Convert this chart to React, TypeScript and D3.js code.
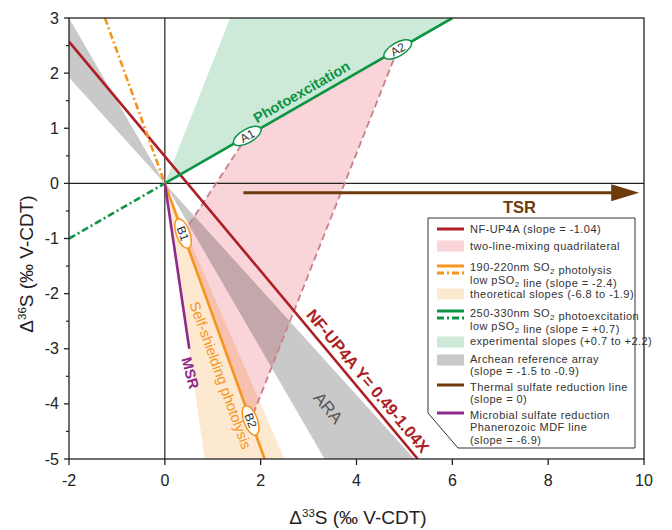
import React from "react";
import * as d3 from "d3";

const W = 672;
const H = 530;

// axis ticks
const xTicks = [-2, 0, 2, 4, 6, 8, 10];
const yTicks = [-5, -4, -3, -2, -1, 0, 1, 2, 3];
const yMinorTicks = [-4.5, -3.5, -2.5, -1.5, -0.5, 0.5, 1.5, 2.5];

// lines and arrays
const nfIntercept = 0.49;
const nfSlope = -1.04;
const araSlopes = [-1.5, -0.96];
const photolysisSlope = -2.4;
const theoreticalSlopes = [-6.0, -2.0];
const photoexcitationSlope = 0.5;
const experimentalSlopes = [0.5, 2.2];
const msrEnd = [0.51, -3.0];
const tsrY = -0.17;
const tsrX = [1.64, 9.9];

// two-line-mixing quadrilateral corners
const mixingIds = ["A1", "A2", "B2", "B1"];
const mixingX = [1.72, 4.86, 1.79, 0.38];
const mixingY = [0.86, 2.43, -4.3, -0.91];

const C = {
  red: "#ad1f24",
  green: "#0b9444",
  greenBand: "#cde9d8",
  orange: "#f7941d",
  orangeBand: "#fde9cf",
  pink: "#f9d4d8",
  pinkDash: "#c9808a",
  grey: "#c9c9c9",
  brown: "#6e3b0c",
  purple: "#8e2a8c",
  axis: "#222",
};

const FONT = "Arial, 'Liberation Sans', Helvetica, sans-serif";
const DASHDOT = "7,3,2,3";

const x = d3.scaleLinear().domain([-2, 10]).range([69, 644]);
const y = d3.scaleLinear().domain([-5, 3]).range([459, 18]);

const line = d3
  .line<[number, number]>()
  .x((d) => x(d[0]))
  .y((d) => y(d[1]));

// wedge from origin between two slopes, restricted to one side
const wedge = (s1: number, s2: number, far: number) =>
  line([
    [0, 0],
    [far, s1 * far],
    [far, s2 * far],
  ]) + "Z";

const angleOf = (slope: number) =>
  (Math.atan2(y(slope) - y(0), x(1) - x(0)) * 180) / Math.PI;

const Sub = ({ t }: { t: string }) => (
  <>
    <tspan fontSize="8" dy="2.5">
      {t}
    </tspan>
    <tspan dy="-2.5"></tspan>
  </>
);

const Marker = ({ i, color, slope }: { i: number; color: string; slope: number }) => {
  const px = x(mixingX[i]);
  const py = y(mixingY[i]);
  const a = angleOf(slope);
  return (
    <g transform={`translate(${px},${py}) rotate(${a})`}>
      <ellipse rx={15.5} ry={6.8} fill="#fff" stroke={color} strokeWidth={1.5} />
      <text textAnchor="middle" y={4.2} fontSize={12} fill="#333" fontFamily={FONT}>
        {mixingIds[i]}
      </text>
    </g>
  );
};

const legendX = 428;
const legendTop = 218;
const legendRight = 635;
const legendBottom = 448;
const swX0 = 437;
const swX1 = 464;
const txtX = 470;

const LineSwatch = ({ yy, color, dash }: { yy: number; color: string; dash?: string }) => (
  <line
    x1={swX0}
    x2={swX1}
    y1={yy}
    y2={yy}
    stroke={color}
    strokeWidth={3}
    strokeDasharray={dash}
  />
);
const RectSwatch = ({ yy, color }: { yy: number; color: string }) => (
  <rect x={swX0} y={yy - 5.5} width={swX1 - swX0} height={11} fill={color} />
);

const Legend = () => {
  const t = (yy: number, content: React.ReactNode) => (
    <text
      x={txtX}
      y={yy + 4}
      fontSize={11}
      letterSpacing={0.45}
      fill="#333"
      fontFamily={FONT}
    >
      {content}
    </text>
  );
  return (
    <g>
      <path
        d={`M${legendX},${legendTop}H${legendRight}V${legendBottom}H${legendX + 30}L${legendX},${legendBottom - 35}Z`}
        fill="#fff"
        stroke="#333"
        strokeWidth={1}
      />
      <LineSwatch yy={229} color={C.red} />
      {t(229, "NF-UP4A (slope = -1.04)")}
      <RectSwatch yy={246} color={C.pink} />
      {t(246, "two-line-mixing quadrilateral")}
      <LineSwatch yy={266} color={C.orange} />
      <LineSwatch yy={273} color={C.orange} dash={DASHDOT} />
      {t(267, <>190-220nm SO<Sub t="2" /> photolysis</>)}
      {t(280, <>low pSO<Sub t="2" /> line (slope = -2.4)</>)}
      <RectSwatch yy={294} color={C.orangeBand} />
      {t(294, "theoretical slopes (-6.8 to -1.9)")}
      <LineSwatch yy={311} color={C.green} />
      <LineSwatch yy={318} color={C.green} dash={DASHDOT} />
      {t(313, <>250-330nm SO<Sub t="2" /> photoexcitation</>)}
      {t(326, <>low pSO<Sub t="2" /> line (slope = +0.7)</>)}
      <RectSwatch yy={342} color={C.greenBand} />
      {t(341, "experimental slopes (+0.7 to +2.2)")}
      <RectSwatch yy={360} color={C.grey} />
      {t(359, "Archean reference array")}
      {t(371, "(slope = -1.5 to -0.9)")}
      <LineSwatch yy={385} color={C.brown} />
      {t(387, "Thermal sulfate reduction line")}
      {t(399, "(slope = 0)")}
      <LineSwatch yy={413} color={C.purple} />
      {t(415, "Microbial sulfate reduction")}
      {t(427, "Phanerozoic MDF line")}
      {t(440, "(slope = -6.9)")}
    </g>
  );
};

export default function App() {
  const [x0, x1] = x.domain();
  const [y0, y1] = y.domain();

  const quad = line(mixingX.map((v, i) => [v, mixingY[i]] as [number, number])) + "Z";

  const nfEndX = (y0 - nfIntercept) / nfSlope;
  const photoTopX = y1 / photolysisSlope;
  const photoBotX = y0 / photolysisSlope;
  const greenTopX = y1 / photoexcitationSlope;

  const gAngle = angleOf(photoexcitationSlope);
  const oAngle = angleOf(photolysisSlope);
  const rAngle = angleOf(nfSlope);

  // label anchors along the lines
  const peX = 2.97;
  const nfLX = 4.05;
  const ssY = -3.4;

  const arrowTip = x(tsrX[1]);
  const arrowBase = arrowTip - 28;

  return (
    <svg
      width={W}
      height={H}
      style={{ position: "absolute", left: 0, top: 0, background: "#fff" }}
      fontFamily={FONT}
    >
      <defs>
        <clipPath id="plot">
          <rect x={x(x0)} y={y(y1)} width={x(x1) - x(x0)} height={y(y0) - y(y1)} />
        </clipPath>
      </defs>

      <g clipPath="url(#plot)">
        {/* bands */}
        <path d={wedge(araSlopes[0], araSlopes[1], -20)} fill={C.grey} />
        <path d={wedge(araSlopes[0], araSlopes[1], 20)} fill={C.grey} />
        <path d={wedge(experimentalSlopes[0], experimentalSlopes[1], 20)} fill={C.greenBand} />
        <path
          d={
            line([
              [0, 0],
              [-20 / theoreticalSlopes[0], -20],
              [-20 / theoreticalSlopes[1], -20],
            ]) + "Z"
          }
          fill={C.orangeBand}
        />
        <path d={quad} fill={C.pink} style={{ mixBlendMode: "multiply" }} />

        {/* zero lines */}
        <line x1={x(x0)} x2={x(x1)} y1={y(0)} y2={y(0)} stroke={C.axis} strokeWidth={1.2} />
        <line x1={x(0)} x2={x(0)} y1={y(y0)} y2={y(y1)} stroke={C.axis} strokeWidth={1.2} />

        {/* mixing dashed edges */}
        <path
          d={line([
            [mixingX[0], mixingY[0]],
            [mixingX[3], mixingY[3]],
          ]) || ""}
          stroke={C.pinkDash}
          strokeWidth={1.8}
          strokeDasharray="7,4"
          fill="none"
        />
        <path
          d={line([
            [mixingX[1], mixingY[1]],
            [mixingX[2], mixingY[2]],
          ]) || ""}
          stroke={C.pinkDash}
          strokeWidth={1.8}
          strokeDasharray="7,4"
          fill="none"
        />

        {/* NF-UP4A */}
        <path
          d={line([
            [x0, nfIntercept + nfSlope * x0],
            [nfEndX, y0],
          ]) || ""}
          stroke={C.red}
          strokeWidth={2.6}
          fill="none"
        />

        {/* photoexcitation */}
        <path
          d={line([
            [x0, photoexcitationSlope * x0],
            [0, 0],
          ]) || ""}
          stroke={C.green}
          strokeWidth={2.6}
          strokeDasharray={DASHDOT}
          fill="none"
        />
        <path
          d={line([
            [0, 0],
            [greenTopX, y1],
          ]) || ""}
          stroke={C.green}
          strokeWidth={2.6}
          fill="none"
        />

        {/* photolysis */}
        <path
          d={line([
            [photoTopX, y1],
            [0, 0],
          ]) || ""}
          stroke={C.orange}
          strokeWidth={2.6}
          strokeDasharray={DASHDOT}
          fill="none"
        />
        <path
          d={line([
            [0, 0],
            [photoBotX, y0],
          ]) || ""}
          stroke={C.orange}
          strokeWidth={2.6}
          fill="none"
        />

        {/* MSR */}
        <path
          d={line([
            [0, 0],
            [msrEnd[0], msrEnd[1]],
          ]) || ""}
          stroke={C.purple}
          strokeWidth={2.6}
          fill="none"
        />

        {/* TSR arrow */}
        <line
          x1={x(tsrX[0])}
          x2={arrowBase + 2}
          y1={y(tsrY)}
          y2={y(tsrY)}
          stroke={C.brown}
          strokeWidth={3}
        />
        <path
          d={`M${arrowBase},${y(tsrY) - 8.5}L${arrowTip},${y(tsrY)}L${arrowBase},${y(tsrY) + 8.5}Z`}
          fill={C.brown}
        />
      </g>

      {/* markers */}
      <Marker i={0} color={C.green} slope={photoexcitationSlope} />
      <Marker i={1} color={C.green} slope={photoexcitationSlope} />
      <Marker i={3} color={C.orange} slope={photolysisSlope} />
      <Marker i={2} color={C.orange} slope={photolysisSlope} />

      {/* annotations */}
      <text
        transform={`translate(${x(peX)},${y(photoexcitationSlope * peX)}) rotate(${gAngle})`}
        y={-6}
        textAnchor="middle"
        fontSize={14.5}
        fontWeight="bold"
        fill={C.green}
      >
        Photoexcitation
      </text>
      <text
        transform={`translate(${x(nfLX)},${y(nfIntercept + nfSlope * nfLX)}) rotate(${rAngle})`}
        y={-6}
        textAnchor="middle"
        fontSize={16.5}
        fontWeight="bold"
        fill={C.red}
      >
        NF-UP4A Y= 0.49-1.04X
      </text>
      <text
        transform={`translate(${x(ssY / photolysisSlope)},${y(ssY)}) rotate(${oAngle})`}
        y={18}
        textAnchor="middle"
        fontSize={14.5}
        fill={C.orange}
      >
        Self-shielding photolysis
      </text>
      <text
        transform={`translate(${x(0.53)},${y(-3.44)}) rotate(75)`}
        y={5}
        textAnchor="middle"
        fontSize={14.5}
        fontWeight="bold"
        fill={C.purple}
      >
        MSR
      </text>
      <text
        transform={`translate(${x(3.41)},${y(-4.07)}) rotate(${rAngle})`}
        y={6}
        textAnchor="middle"
        fontSize={17}
        fill="#555"
      >
        ARA
      </text>
      <text
        x={x(7.4)}
        y={y(-0.42) + 6}
        textAnchor="middle"
        fontSize={16.5}
        fontWeight="bold"
        fill={C.brown}
      >
        TSR
      </text>

      {/* frame */}
      <rect
        x={x(x0)}
        y={y(y1)}
        width={x(x1) - x(x0)}
        height={y(y0) - y(y1)}
        fill="none"
        stroke={C.axis}
        strokeWidth={1.3}
      />

      {/* y axis ticks */}
      {yTicks.map((t) => (
        <g key={"y" + t}>
          <line x1={x(x0) - 5} x2={x(x0)} y1={y(t)} y2={y(t)} stroke={C.axis} strokeWidth={1.3} />
          <text x={x(x0) - 10} y={y(t) + 5.5} textAnchor="end" fontSize={16} fill="#222">
            {t}
          </text>
        </g>
      ))}
      {yMinorTicks.map((t) => (
        <line key={"ym" + t} x1={x(x0) - 3} x2={x(x0)} y1={y(t)} y2={y(t)} stroke={C.axis} strokeWidth={1.2} />
      ))}

      {/* x axis ticks */}
      {xTicks.map((t) => (
        <g key={"x" + t}>
          <line x1={x(t)} x2={x(t)} y1={y(y0)} y2={y(y0) + 6} stroke={C.axis} strokeWidth={1.3} />
          <text x={x(t)} y={y(y0) + 27} textAnchor="middle" fontSize={16} fill="#222">
            {t}
          </text>
        </g>
      ))}

      {/* axis titles */}
      <text x={358} y={524} textAnchor="middle" fontSize={19} fill="#222">
        Δ<tspan fontSize={11.5} dy={-7}>33</tspan>
        <tspan dy={7}>S (‰ V-CDT)</tspan>
      </text>
      <text
        transform={`translate(33,264) rotate(-90)`}
        textAnchor="middle"
        fontSize={19}
        fill="#222"
      >
        Δ<tspan fontSize={11.5} dy={-7}>36</tspan>
        <tspan dy={7}>S (‰ V-CDT)</tspan>
      </text>

      <Legend />
    </svg>
  );
}
